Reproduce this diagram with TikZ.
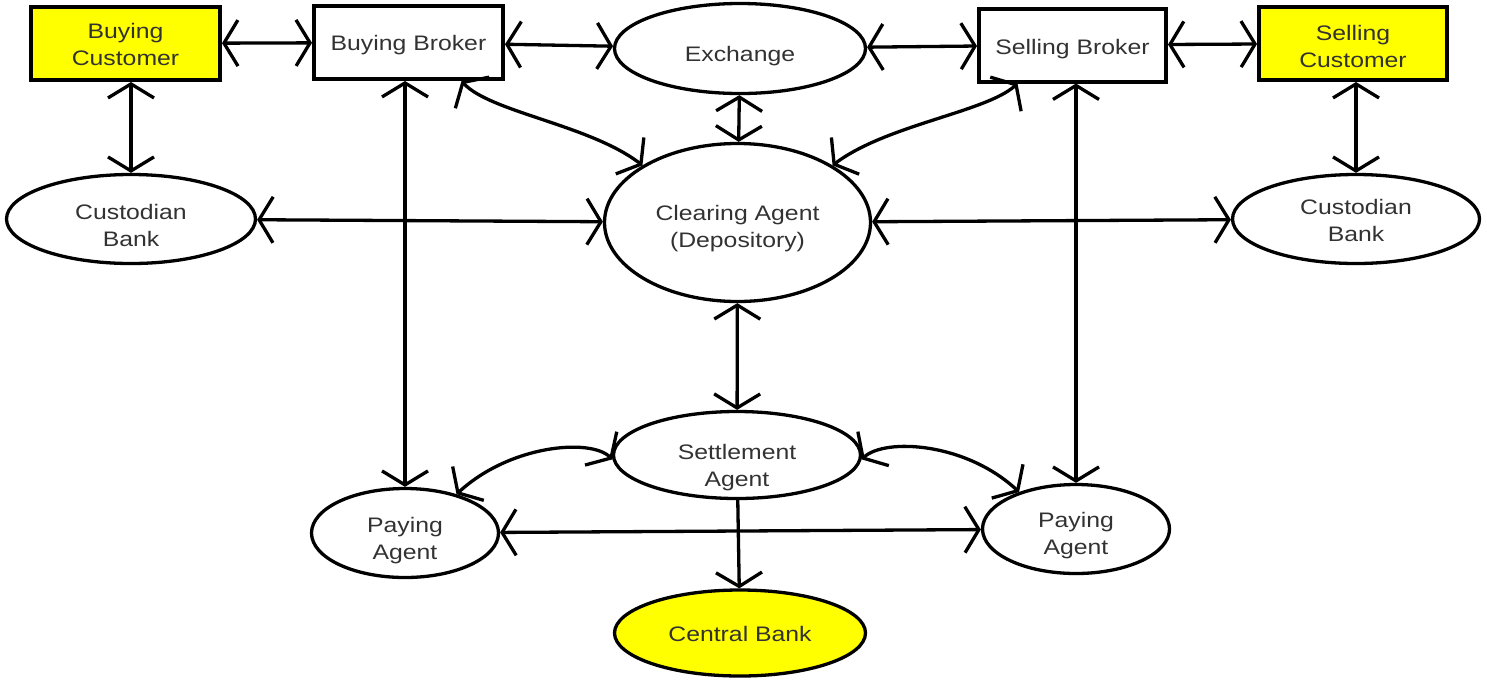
\documentclass[tikz,border=0pt]{standalone}
\usepackage{fontspec}
\setmainfont{Liberation Sans}[FakeStretch=1.18]
\usetikzlibrary{shapes.geometric,arrows.meta}
\definecolor{txt}{RGB}{50,50,50}
\definecolor{hilite}{RGB}{255,255,0}
% two centred lines of node text
\newcommand\twoline[2]{\begin{tabular}{@{}c@{}}#1\\#2\end{tabular}}
\begin{document}
\begin{tikzpicture}[x=1pt,y=-1pt,
  every node/.style={font=\fontsize{21}{27}\selectfont, text=txt, align=center, inner sep=0pt},
  % a tall invisible rule before one-line text sets it a little lower in its shape
  lift/.style={execute at begin node={\rule{0pt}{#1}}},
  % the same for two-line text, by giving its box a fixed height and no depth
  drop/.style={text height=#1, text depth=0pt},
  boxnode/.style={draw=black, line width=4pt, rectangle, minimum width=#1, minimum height=73pt},
  ovalnode/.style={draw=black, line width=3.3pt, ellipse},
  tip/.tip={Straight Barb[length=14pt,width=46pt]},
  conn/.style={line width=3.3pt, tip-tip},
  oneway/.style={line width=3.3pt, -tip}
]
\useasboundingbox (0,0) rectangle (1487,681);

% top row
\node[boxnode=189pt, fill=hilite, drop=15.7pt] (bcust) at (125.5,43.5) {\twoline{Buying}{Customer}};
\node[boxnode=189pt, lift=20.5pt] (bbroker) at (408.5,42.5) {Buying Broker};
\node[ovalnode, minimum width=251pt, minimum height=90pt, lift=29.5pt] (exch) at (740,48.5) {Exchange};
\node[boxnode=187pt, lift=22.5pt] (sbroker) at (1072.5,45) {Selling Broker};
\node[boxnode=188pt, fill=hilite, drop=19.7pt] (scust) at (1353,43.5) {\twoline{Selling}{Customer}};

% middle row
\node[ovalnode, minimum width=249pt, minimum height=89pt, drop=27.7pt] (cbL) at (131,219) {\twoline{Custodian}{Bank}};
\node[ovalnode, minimum width=266pt, minimum height=158pt, drop=21.7pt] (clear) at (737.5,222.5) {\twoline{Clearing Agent}{(Depository)}};
\node[ovalnode, minimum width=247pt, minimum height=89pt, drop=17.7pt] (cbR) at (1356,219) {\twoline{Custodian}{Bank}};

% lower rows
\node[ovalnode, minimum width=247pt, minimum height=87pt, drop=34.7pt] (settle) at (737,455) {\twoline{Settlement}{Agent}};
\node[ovalnode, minimum width=187pt, minimum height=89pt, drop=24.7pt] (payL) at (405,533) {\twoline{Paying}{Agent}};
\node[ovalnode, minimum width=187pt, minimum height=89pt, drop=22.7pt] (payR) at (1076,529) {\twoline{Paying}{Agent}};
\node[ovalnode, fill=hilite, minimum width=251pt, minimum height=86pt, lift=17.5pt] (cbank) at (740,633) {Central Bank};

% top row links
\draw[conn] (bcust) -- (bbroker);
\draw[conn] (bbroker) -- (exch);
\draw[conn] (exch) -- (sbroker);
\draw[conn] (sbroker) -- (scust);

% customers to custodian banks
\draw[conn] (cbL.north |- bcust.south) -- (cbL.north);
\draw[conn] (cbR.north |- scust.south) -- (cbR.north);

% clearing agent links
\draw[conn] (cbL) -- (clear);
\draw[conn] (clear) -- (cbR);
\draw[conn] (exch) -- (clear);
\draw[conn] (bbroker.-36) .. controls (490,112) and (590,125) .. (clear.149);
\draw[conn] (sbroker.-145) .. controls (986,112) and (886,125) .. (clear.31);
\draw[conn] (clear) -- (settle);

% brokers to paying agents
\draw[conn] (payL.north |- bbroker.south) -- (payL.north);
\draw[conn] (payR.north |- sbroker.south) -- (payR.north);

% settlement links
\draw[conn] (settle.182) .. controls (590,438) and (510,445) .. (payL.37);
\draw[conn] (settle.-2) .. controls (885,438) and (965,442) .. (payR.147);
\draw[conn] (payL) -- (payR);
\draw[oneway] (settle) -- (cbank);
\end{tikzpicture}
\end{document}
